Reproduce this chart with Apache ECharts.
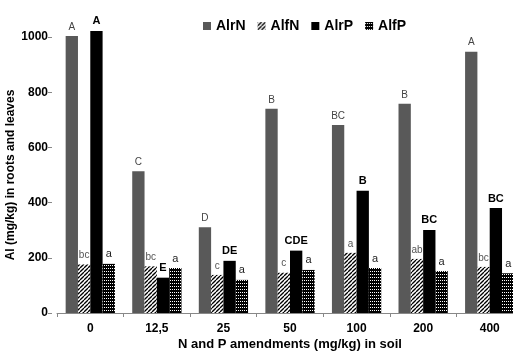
<!DOCTYPE html>
<html>
<head>
<meta charset="utf-8">
<script src="https://cdn.jsdelivr.net/npm/echarts@6/dist/echarts.min.js"></script>
<style>
  html, body { margin: 0; padding: 0; background: #fff; }
  #chart { width: 513px; height: 354px; }
</style>
</head>
<body>
<div id="chart"></div>
<script>
// categories (N and P amendments, mg/kg)
const categories = ['0', '12,5', '25', '50', '100', '200', '400'];

// Al values
const alrN = [1004, 514, 311, 740, 681, 758, 947];
const alfN = [176, 169, 138, 146, 218, 196, 167];
const alrP = [1022, 128, 189, 226, 443, 301, 380];
const alfP = [178, 163, 120, 156, 163, 152, 144];

// significance letters
const alrNLetters = ['A', 'C', 'D', 'B', 'BC', 'B', 'A'];
const alfNLetters = ['bc', 'bc', 'c', 'c', 'a', 'ab', 'bc'];
const alrPLetters = ['A', 'E', 'DE', 'CDE', 'B', 'BC', 'BC'];
const alfPLetters = ['a', 'a', 'a', 'a', 'a', 'a', 'a'];

const yTicks = [0, 200, 400, 600, 800, 1000];

// hatch pattern for AlfN
function hatchPattern() {
    const c = document.createElement('canvas');
    c.width = 4; c.height = 4;
    const ctx = c.getContext('2d');
    ctx.fillStyle = '#fff';
    ctx.fillRect(0, 0, 4, 4);
    ctx.strokeStyle = '#000';
    ctx.lineWidth = 1.3;
    for (let k = -4; k <= 4; k += 4) {
        ctx.beginPath();
        ctx.moveTo(k, 4);
        ctx.lineTo(k + 4, 0);
        ctx.stroke();
    }
    return c;
}

// dotted grid pattern for AlfP
function dotPattern() {
    const c = document.createElement('canvas');
    c.width = 4; c.height = 3;
    const ctx = c.getContext('2d');
    ctx.fillStyle = '#000';
    ctx.fillRect(0, 0, 4, 3);
    ctx.fillStyle = '#fff';
    ctx.fillRect(0, 1, 1, 1);
    ctx.fillRect(2, 1, 1, 1);
    return c;
}

const font = 'Liberation Sans';

function lbl(letters, opt) {
    return Object.assign({
        show: true,
        position: 'top',
        distance: 4,
        fontFamily: font,
        fontSize: 10,
        color: '#555',
        formatter: p => letters[p.dataIndex]
    }, opt);
}

const chart = echarts.init(document.getElementById('chart'));
chart.setOption({
    animation: false,
    textStyle: { fontFamily: font },
    legend: {
        top: 14,
        left: 198,
        itemWidth: 8,
        itemHeight: 8,
        itemGap: 12,
        icon: 'rect',
        textStyle: { fontFamily: font, fontWeight: 'bold', fontSize: 14, color: '#000' },
        data: ['AlrN', 'AlfN', 'AlrP', 'AlfP']
    },
    grid: {
        left: 57,
        top: 37,
        width: 466,
        height: 276,
        containLabel: false,
        outerBoundsMode: 'none'
    },
    xAxis: {
        type: 'category',
        data: categories,
        name: 'N and P amendments (mg/kg) in soil',
        nameLocation: 'center',
        nameGap: 25,
        nameMoveOverlap: false,
        nameTextStyle: { fontFamily: font, fontWeight: 'bold', fontSize: 13, color: '#000' },
        axisLine: { lineStyle: { color: '#888', width: 1 } },
        axisTick: { show: true, length: 4, lineStyle: { color: '#888' } },
        axisLabel: { fontFamily: font, fontWeight: 'bold', fontSize: 12, color: '#000', margin: 10 }
    },
    yAxis: {
        type: 'value',
        min: yTicks[0],
        max: yTicks[yTicks.length - 1],
        interval: 200,
        offset: 5,
        name: 'Al (mg/kg) in roots and leaves',
        nameLocation: 'center',
        nameRotate: 90,
        nameGap: 35,
        nameMoveOverlap: false,
        nameTextStyle: { fontFamily: font, fontWeight: 'bold', fontSize: 12, color: '#000' },
        axisLine: { show: false },
        axisTick: { show: true, length: 4, lineStyle: { color: '#888' } },
        splitLine: { show: false },
        axisLabel: {
            fontFamily: font, fontWeight: 'bold', fontSize: 12, color: '#000', margin: 4,
            formatter: v => String(v)
        }
    },
    series: [
        {
            name: 'AlrN', type: 'bar', data: alrN, clip: false,
            barGap: '0%', barCategoryGap: '26%',
            itemStyle: { color: '#595959' },
            label: lbl(alrNLetters, { color: '#444' })
        },
        {
            name: 'AlfN', type: 'bar', data: alfN, clip: false,
            itemStyle: { color: { image: hatchPattern(), repeat: 'repeat' } },
            label: lbl(alfNLetters, { color: '#555' })
        },
        {
            name: 'AlrP', type: 'bar', data: alrP, clip: false,
            itemStyle: { color: '#000' },
            label: lbl(alrPLetters, { color: '#000', fontWeight: 'bold', fontSize: 11 })
        },
        {
            name: 'AlfP', type: 'bar', data: alfP, clip: false,
            itemStyle: { color: { image: dotPattern(), repeat: 'repeat' } },
            label: lbl(alfPLetters, { color: '#222', fontSize: 11 })
        }
    ]
});
</script>
</body>
</html>
